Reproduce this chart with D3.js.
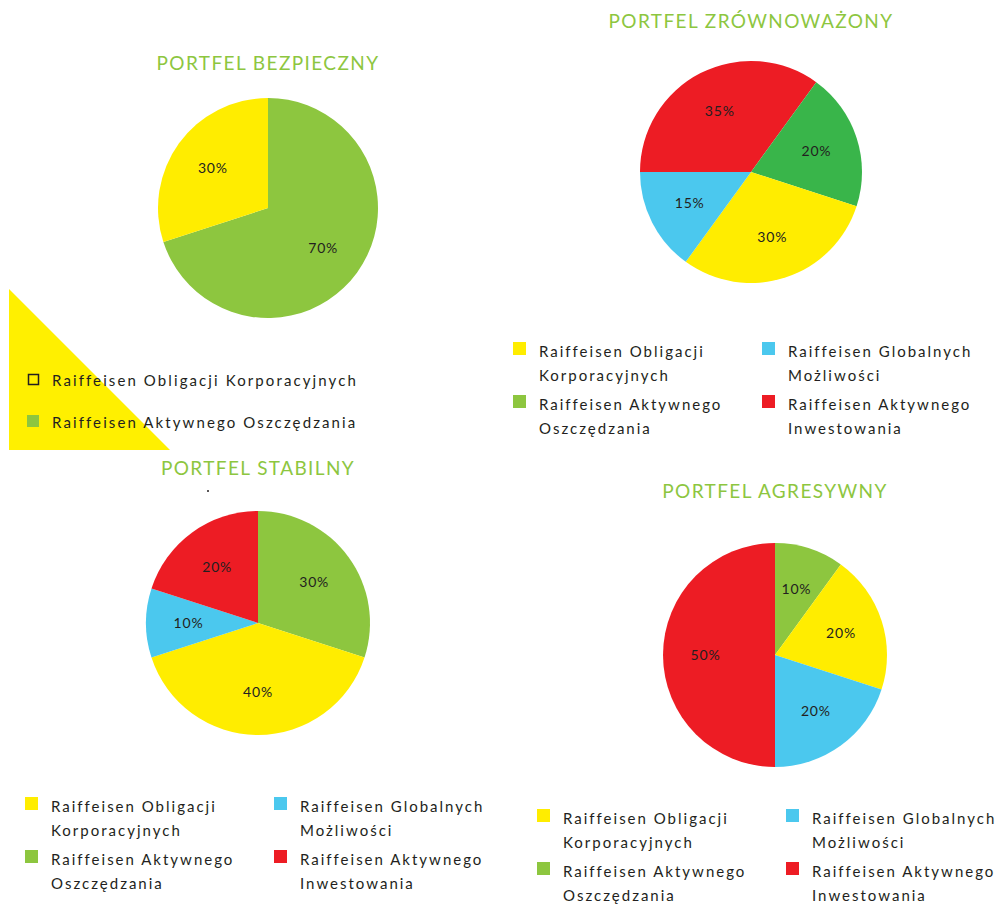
<!DOCTYPE html>
<html>
<head>
<meta charset="utf-8">
<script src="https://cdn.jsdelivr.net/npm/d3@7"></script>
<style>
  body { margin: 0; background: #fff; }
  svg text { font-family: Lato, "Open Sans", sans-serif; }
</style>
</head>
<body>
<div id="chart"></div>
<script>
// fund names (legend wraps them in two lines)
const fundLines = [
    ["Raiffeisen Obligacji", "Korporacyjnych"],
    ["Raiffeisen Aktywnego", "Oszczędzania"],
    ["Raiffeisen Globalnych", "Możliwości"],
    ["Raiffeisen Aktywnego", "Inwestowania"]
];
const fundColors = ["#FFED00", "#8DC63F", "#4BC8EE", "#ED1C24"];

const titles = ["PORTFEL BEZPIECZNY", "PORTFEL ZRÓWNOWAŻONY", "PORTFEL STABILNY", "PORTFEL AGRESYWNY"];

// slices in drawing order (clockwise) -> fund index, share %
const bezpiecznyFunds = [1, 0];
const bezpiecznyShares = [70, 30];
const zrownowazonyFunds = [3, 1, 0, 2];
const zrownowazonyShares = [35, 20, 30, 15];
const stabilnyFunds = [1, 0, 2, 3];
const stabilnyShares = [30, 40, 10, 20];
const agresywnyFunds = [1, 0, 2, 3];
const agresywnyShares = [10, 20, 20, 50];

const width = 1003, height = 904;

const svg = d3.select("#chart").append("svg")
    .attr("width", width)
    .attr("height", height);

// yellow corner triangle behind the first legend
svg.append("path")
    .attr("d", d3.line()([[9, 289], [9, 450], [170, 450]]))
    .attr("fill", "#FFF000");

const panels = [
    {title: titles[0], funds: bezpiecznyFunds, shares: bezpiecznyShares, cx: 268, cy: 208, r: 110, start: 0,
        titleY: 70, legend: "simple"},
    {title: titles[1], funds: zrownowazonyFunds, shares: zrownowazonyShares, cx: 751, cy: 172, r: 111, start: -Math.PI / 2,
        titleY: 28, legend: {x: 513, y: 342}, darkGreen: true},
    {title: titles[2], funds: stabilnyFunds, shares: stabilnyShares, cx: 258, cy: 623, r: 112, start: 0,
        titleY: 475, legend: {x: 25, y: 797}},
    {title: titles[3], funds: agresywnyFunds, shares: agresywnyShares, cx: 775, cy: 655, r: 112, start: 0,
        titleY: 498, legend: {x: 537, y: 809}}
];

panels.forEach(p => {
    let data = p.funds.map((f, i) => ({fund: f, value: p.shares[i]}));

    let pie = d3.pie()
        .sort(null)
        .value(d => d.value)
        .startAngle(p.start)
        .endAngle(p.start + 2 * Math.PI);

    let arc = d3.arc().innerRadius(0).outerRadius(p.r);
    let labelArc = d3.arc().innerRadius(p.r * 0.62).outerRadius(p.r * 0.62);

    let g = svg.append("g").attr("transform", `translate(${p.cx},${p.cy})`);

    g.selectAll("path")
        .data(pie(data))
        .enter().append("path")
        .attr("d", arc)
        .attr("fill", d => (p.darkGreen && d.data.fund === 1) ? "#39B54A" : fundColors[d.data.fund]);

    g.selectAll("text")
        .data(pie(data))
        .enter().append("text")
        .attr("transform", d => `translate(${labelArc.centroid(d)})`)
        .attr("text-anchor", "middle")
        .attr("dy", "0.35em")
        .style("font-size", "14px")
        .style("letter-spacing", "0.8px")
        .attr("fill", "#231F20")
        .text(d => d.data.value + "%");

    svg.append("text")
        .attr("x", p.cx)
        .attr("y", p.titleY)
        .attr("text-anchor", "middle")
        .attr("fill", "#8DC63F")
        .style("font-size", "19px")
        .style("letter-spacing", "1.4px")
        .text(p.title);

    if (p.legend === "simple") {
        // two-item legend of the first portfolio
        let items = [0, 1];
        items.forEach((f, i) => {
            let y = 373 + i * 42;
            svg.append("rect")
                .attr("x", i === 0 ? 28.5 : 27)
                .attr("y", i === 0 ? y + 1.5 : y)
                .attr("width", i === 0 ? 10 : 12)
                .attr("height", i === 0 ? 10 : 12)
                .attr("fill", i === 0 ? "none" : fundColors[1])
                .attr("stroke", i === 0 ? "#231F20" : "none")
                .attr("stroke-width", 1.5);
            svg.append("text")
                .attr("x", 52)
                .attr("y", y + 13)
                .style("font-size", "15px")
                .style("letter-spacing", "2.1px")
                .attr("fill", "#231F20")
                .text(fundLines[f].join(" "));
        });
    } else {
        [0, 1, 2, 3].forEach(f => {
            let col = Math.floor(f / 2), row = f % 2;
            let x = p.legend.x + col * 249;
            let y = p.legend.y + row * 53;
            svg.append("rect")
                .attr("x", x)
                .attr("y", y)
                .attr("width", 13)
                .attr("height", 13)
                .attr("fill", fundColors[f]);
            fundLines[f].forEach((line, li) => {
                svg.append("text")
                    .attr("x", x + 26)
                    .attr("y", y + 15 + li * 24)
                    .style("font-size", "15px")
                    .style("letter-spacing", "2px")
                    .attr("fill", "#231F20")
                    .text(line);
            });
        });
    }
});

// stray dot under the third title
svg.append("circle").attr("cx", 208).attr("cy", 491).attr("r", 1).attr("fill", "#231F20");
</script>
</body>
</html>
